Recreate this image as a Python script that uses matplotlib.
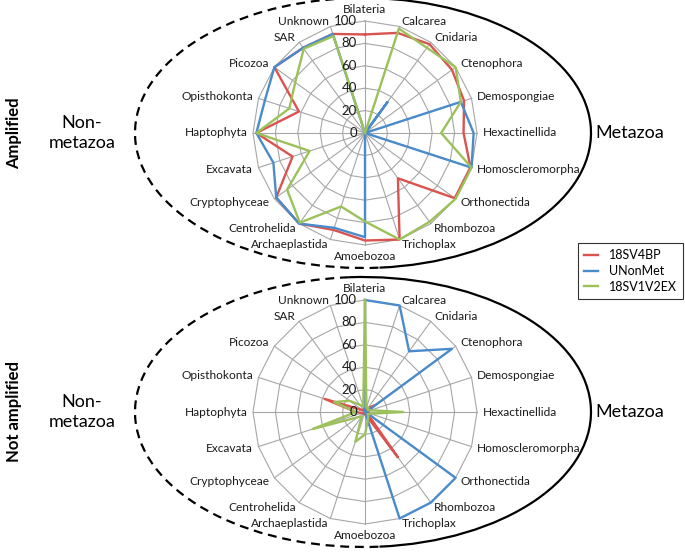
import numpy as np
import matplotlib.pyplot as plt
from matplotlib.patches import Arc
from matplotlib.lines import Line2D
from matplotlib.transforms import offset_copy

plt.rcParams['font.family'] = ['Lato', 'DejaVu Sans']

categories = ['Bilateria', 'Calcarea', 'Cnidaria', 'Ctenophora', 'Demospongiae',
              'Hexactinellida', 'Homoscleromorpha', 'Orthonectida', 'Rhombozoa',
              'Trichoplax', 'Amoebozoa', 'Archaeplastida', 'Centrohelida',
              'Cryptophyceae', 'Excavata', 'Haptophyta', 'Opisthokonta',
              'Picozoa', 'SAR', 'Unknown']

series_names = ['18SV4BP', 'UNonMet', '18SV1V2EX']

# Amplified (% per group)
amp_18sv4bp = [88, 94, 98, 96, 93, 88, 99, 99, 50, 100,
               96, 91, 100, 98, 68, 97, 62, 100, 94, 93]
amp_unonmet = [0, 0, 34, 0, 90, 97, 100, 0, 0, 0,
               93, 89, 100, 98, 86, 97, 94, 100, 94, 93]
amp_18sv1v2ex = [0, 98, 94, 100, 90, 68, 100, 100, 98, 100,
                 79, 69, 99, 86, 52, 97, 71, 77, 93, 91]

# Not amplified (% per group)
notamp_18sv4bp = [8, 3, 4, 10, 4, 3, 2, 3, 50, 3,
                  2, 2, 2, 2, 3, 8, 38, 3, 2, 2]
notamp_unonmet = [100, 100, 67, 96, 2, 1, 1, 100, 100, 100,
                  0, 0, 0, 0, 0, 0, 0, 0, 0, 0]
notamp_18sv1v2ex = [100, 4, 5, 3, 5, 34, 5, 3, 5, 8,
                    20, 28, 5, 8, 49, 8, 29, 17, 8, 5]

tick_values = [0, 20, 40, 60, 80, 100]
colors = ['#D9534F', '#4A8BCB', '#9CC15A']

W, H = 685, 552
fig = plt.figure(figsize=(W / 100, H / 100), dpi=100)

# overlay axes in pixel units for the ellipses and side labels
bg = fig.add_axes([0, 0, 1, 1])
bg.set_xlim(0, W)
bg.set_ylim(0, H)
bg.axis('off')


def draw_ellipse(cy):
    """Dashed left half, solid right half."""
    center = (363, H - cy)
    bg.add_patch(Arc(center, 456, 270, theta1=96, theta2=277,
                     color='black', lw=1.6, linestyle=(0, (4, 2.6))))
    bg.add_patch(Arc(center, 456, 270, theta1=-83, theta2=96,
                     color='black', lw=1.6))


def radar(cy, values_list):
    r_px = 112
    ax = fig.add_axes([(365 - r_px) / W, (H - cy - r_px) / H,
                       2 * r_px / W, 2 * r_px / H], projection='polar')
    ax.set_theta_offset(np.pi / 2)
    ax.set_theta_direction(-1)
    ax.set_ylim(0, 100)
    ax.axis('off')

    n = len(categories)
    angles = np.arange(n) * 2 * np.pi / n
    closed = np.append(angles, angles[0])

    # polygon grid
    for r in tick_values[1:]:
        ax.plot(closed, [r] * (n + 1), color='#A6A6A6', lw=0.8,
                clip_on=False, zorder=1)
    for a in angles:
        ax.plot([a, a], [0, 100], color='#A6A6A6', lw=0.8,
                clip_on=False, zorder=1)

    # series
    for vals, col in zip(values_list, colors):
        ax.plot(closed, np.append(vals, vals[0]), color=col, lw=1.7,
                clip_on=False, zorder=3)

    # category labels
    for a, name in zip(angles, categories):
        s = np.sin(a)
        c = np.cos(a)
        ha = 'center' if abs(s) < 0.1 else ('left' if s > 0 else 'right')
        if c > 0.99:
            va = 'bottom'
        elif c < -0.99:
            va = 'top'
        else:
            va = 'center'
        ax.text(a, 105, name, ha=ha, va=va, fontsize=8.6, color='#1a1a1a',
                zorder=4)

    # radial tick labels
    trans = offset_copy(ax.transData, fig=fig, x=-8, y=0, units='dots')
    for t in tick_values:
        ax.text(0, t, str(t), transform=trans, ha='right', va='center',
                fontsize=9.5, color='#1a1a1a', zorder=4)
    return ax


draw_ellipse(133)
draw_ellipse(412)

radar(133, [amp_18sv4bp, amp_unonmet, amp_18sv1v2ex])
radar(412, [notamp_18sv4bp, notamp_unonmet, notamp_18sv1v2ex])

for cy, title in [(133, 'Amplified'), (412, 'Not amplified')]:
    bg.text(14, H - cy, title, rotation=90, ha='center', va='center',
            fontsize=12, fontweight='bold')
    bg.text(82, H - cy, 'Non-\nmetazoa', ha='center', va='center',
            fontsize=13, linespacing=1.25)
    bg.text(630, H - cy, 'Metazoa', ha='center', va='center', fontsize=13)

handles = [Line2D([], [], color=c, lw=1.7) for c in colors]
leg = fig.legend(handles, series_names, loc='upper right',
                 bbox_to_anchor=(683 / W, 1 - 243 / H), frameon=True,
                 fancybox=False, edgecolor='black', fontsize=9,
                 handlelength=1.1, handletextpad=0.9, borderaxespad=0,
                 borderpad=0.5, labelspacing=0.3)
leg.get_frame().set_linewidth(0.8)

fig.savefig('out.png', dpi=100)
